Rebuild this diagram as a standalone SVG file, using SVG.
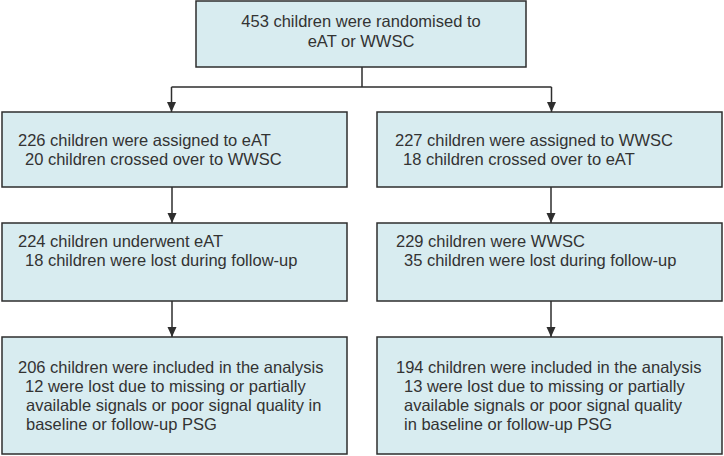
<svg xmlns="http://www.w3.org/2000/svg" width="724" height="456" viewBox="0 0 724 456">
<style>
.box{fill:#d8ecf0;stroke:#2e2e2e;stroke-width:1.5}
.t{font-family:"Liberation Sans",Arial,sans-serif;font-size:16.5px;fill:#333}
.c{fill:none;stroke:#2e2e2e;stroke-width:1.5}
</style>
<defs>
<marker id="ah" viewBox="0 0 10 10" refX="10" refY="5" markerWidth="10" markerHeight="10" markerUnits="userSpaceOnUse" orient="auto">
<path d="M0,0.5 L10,5 L0,9.5 z" fill="#2e2e2e"/>
</marker>
</defs>
<g id="connectors">
<path class="c" d="M362,67 V87 M171.5,87 H551.5"/>
<path class="c" d="M171.5,87 V112" marker-end="url(#ah)"/>
<path class="c" d="M551.5,87 V112" marker-end="url(#ah)"/>
<path class="c" d="M172,187 V223" marker-end="url(#ah)"/>
<path class="c" d="M551,187 V223" marker-end="url(#ah)"/>
<path class="c" d="M172,301 V337" marker-end="url(#ah)"/>
<path class="c" d="M551,301 V337" marker-end="url(#ah)"/>
</g>
<g id="n0">
<rect class="box" x="196" y="1" width="330" height="66"/>
<text class="t" x="361" y="27" text-anchor="middle">453 children were randomised to</text>
<text class="t" x="361" y="47" text-anchor="middle">eAT or WWSC</text>
</g>
<g id="n1">
<rect class="box" x="2" y="112" width="345" height="75"/>
<text class="t" x="18" y="146">226 children were assigned to eAT</text>
<text class="t" x="25" y="165">20 children crossed over to WWSC</text>
</g>
<g id="n2">
<rect class="box" x="377" y="112" width="345" height="75"/>
<text class="t" x="395" y="146">227 children were assigned to WWSC</text>
<text class="t" x="403" y="165">18 children crossed over to eAT</text>
</g>
<g id="n3">
<rect class="box" x="2" y="223" width="345" height="78"/>
<text class="t" x="18" y="247">224 children underwent eAT</text>
<text class="t" x="25" y="266">18 children were lost during follow-up</text>
</g>
<g id="n4">
<rect class="box" x="377" y="223" width="345" height="78"/>
<text class="t" x="396" y="247">229 children were WWSC</text>
<text class="t" x="404" y="266">35 children were lost during follow-up</text>
</g>
<g id="n5">
<rect class="box" x="2" y="337" width="345" height="117"/>
<text class="t" x="18" y="373">206 children were included in the analysis</text>
<text class="t" x="25" y="392">12 were lost due to missing or partially</text>
<text class="t" x="26" y="411">available signals or poor signal quality in</text>
<text class="t" x="26" y="430">baseline or follow-up PSG</text>
</g>
<g id="n6">
<rect class="box" x="377" y="337" width="345" height="117"/>
<text class="t" x="396" y="373">194 children were included in the analysis</text>
<text class="t" x="404" y="392">13 were lost due to missing or partially</text>
<text class="t" x="404" y="411">available signals or poor signal quality</text>
<text class="t" x="404" y="430">in baseline or follow-up PSG</text>
</g>
</svg>
